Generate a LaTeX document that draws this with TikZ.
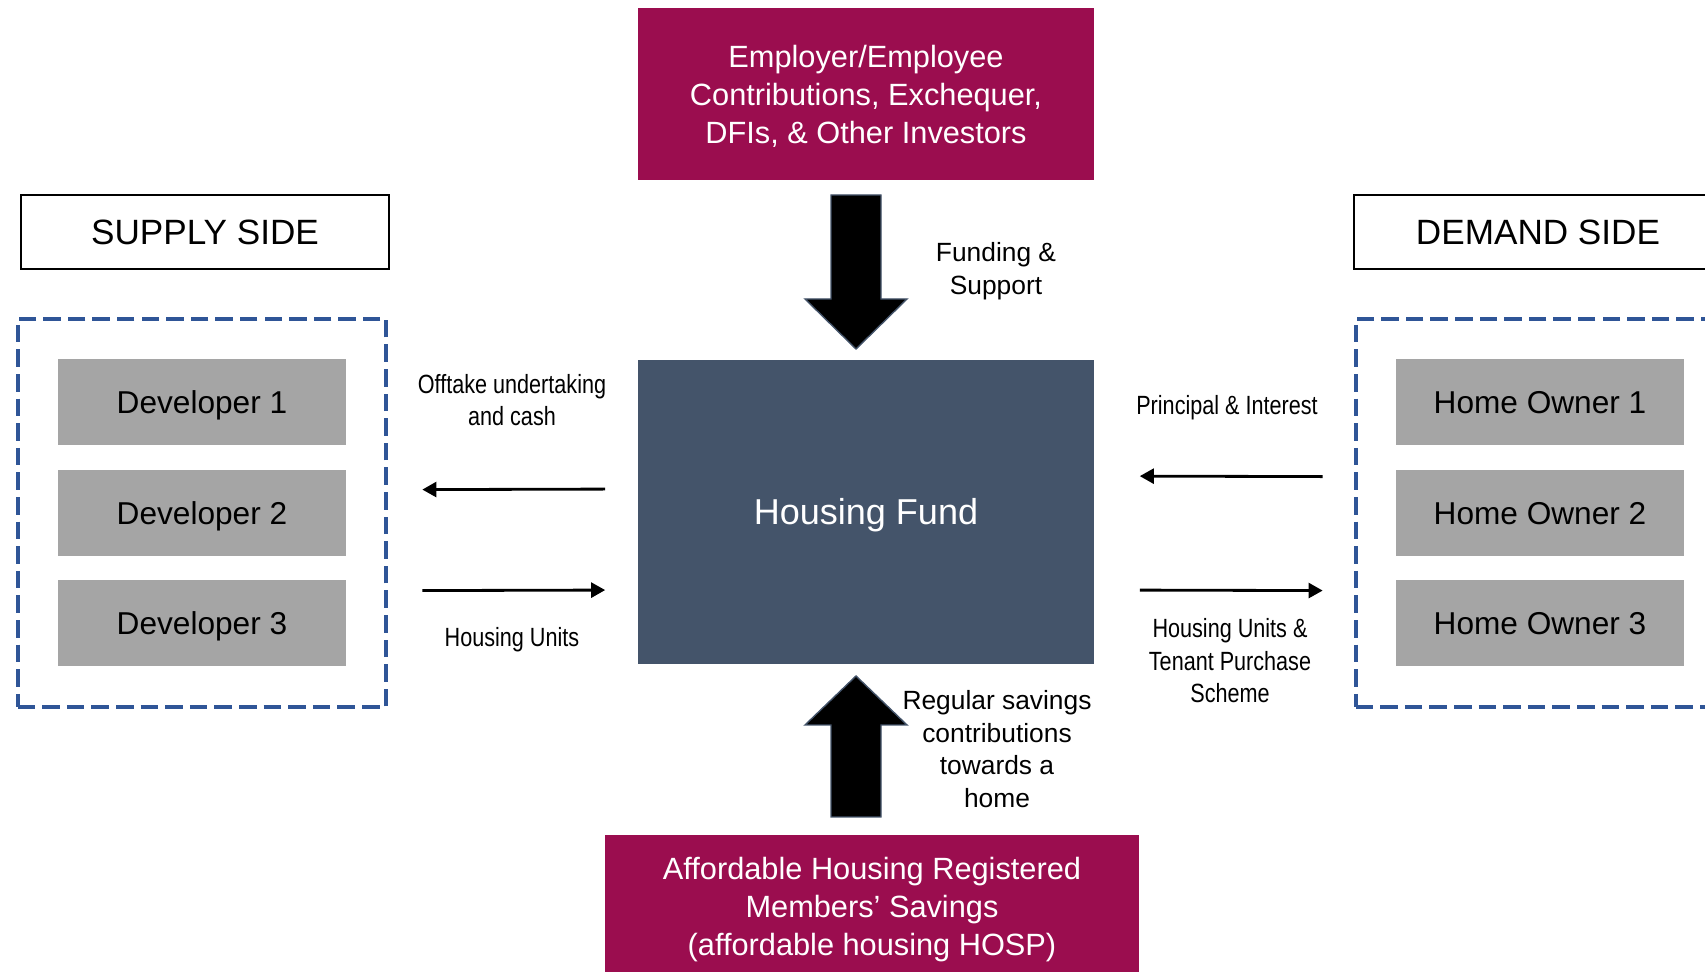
\documentclass[tikz,border=0pt]{standalone}
\usepackage{fontspec}
\setmainfont{Liberation Sans}
\newfontfamily\narrowfont[FakeStretch=0.82]{Liberation Sans}
\usetikzlibrary{fit,positioning,arrows.meta}
\definecolor{fundmagenta}{HTML}{9B0D4F}
\definecolor{fundslate}{HTML}{44546A}
\definecolor{devgray}{HTML}{A5A5A5}
\definecolor{sideblue}{HTML}{2F5597}
\tikzset{
    node distance=0.48cm, % gap between the stacked grey boxes
    source/.style={fill=fundmagenta, text=white, align=center, text depth=0pt, font=\fontsize{17.5}{21.6}\selectfont},
    member/.style={fill=devgray, minimum width=5.76cm, minimum height=1.72cm, text height=12.9pt, text depth=0pt, font=\fontsize{18}{21}\selectfont},
    sidelabel/.style={draw, line width=1.2pt, minimum width=7.36cm, minimum height=1.48cm, font=\fontsize{20}{24}\selectfont},
    sidebox/.style={draw=sideblue, line width=2.3pt, dash pattern=on 10pt off 4pt, inner sep=0.8cm},
    flow/.style={-{Triangle[length=8pt,width=8.5pt]}, line width=1.6pt},
    blockarrow/.style={fill=black, draw=fundslate, line width=0.8pt},
    note/.style={align=center, font=\fontsize{15}{18.5}\selectfont},
    narrownote/.style={align=center, font=\narrowfont\fontsize{15}{18.5}\selectfont},
}
\begin{document}
\begin{tikzpicture}[x=0.02cm, y=-0.02cm]
  \useasboundingbox (0,0) rectangle (1705,972);

  % money coming in, above and below the fund
  \node[source, minimum width=9.14cm, minimum height=3.46cm] (src) at (866,94)
      {Employer/Employee\\Contributions, Exchequer,\\DFIs, \& Other Investors};
  \node[fill=fundslate, text=white, minimum width=9.14cm, minimum height=6.1cm,
      text height=14.7pt, text depth=0pt,
      font=\fontsize{20.5}{24}\selectfont] (fund) at (866,512) {Housing Fund};
  \node[source, minimum width=10.7cm, minimum height=2.84cm] (hosp) at (872,906)
      {Affordable Housing Registered\\Members’ Savings\\(affordable housing HOSP)};

  % supply side
  \node[member] (dev1) at (202,402) {Developer 1};
  \node[member, below=of dev1] (dev2) {Developer 2};
  \node[member, below=of dev2] (dev3) {Developer 3};
  \node[sidebox, fit=(dev1)(dev3)] (supply) {};
  \node[sidelabel] (supplylabel) at (205,232) {SUPPLY SIDE};

  % demand side
  \node[member] (own1) at (1540,402) {Home Owner 1};
  \node[member, below=of own1] (own2) {Home Owner 2};
  \node[member, below=of own2] (own3) {Home Owner 3};
  \node[sidebox, fit=(own1)(own3)] (demand) {};
  \node[sidelabel] (demandlabel) at (1538,232) {DEMAND SIDE};

  % block arrows
  \draw[blockarrow] (831,195) -- (881,195) -- (881,299) -- (907,299) -- (856,349)
      -- (805,299) -- (831,299) -- cycle;
  \draw[blockarrow] (831,817) -- (881,817) -- (881,725) -- (907,725) -- (856,676)
      -- (805,725) -- (831,725) -- cycle;

  % flows between the fund and the two sides
  \draw[flow, shorten <=0.64cm, shorten >=0.68cm] ([yshift=4.6mm]fund.west) -- ([yshift=4.6mm]supply.east);
  \draw[flow, shorten <=0.68cm, shorten >=0.64cm] ([yshift=-15.6mm]supply.east) -- ([yshift=-15.6mm]fund.west);
  \draw[flow, shorten <=0.62cm, shorten >=0.9cm] ([yshift=7.2mm]demand.west) -- ([yshift=7.2mm]fund.east);
  \draw[flow, shorten <=0.9cm, shorten >=0.62cm] ([yshift=-15.6mm]fund.east) -- ([yshift=-15.6mm]demand.west);

  % labels
  \node[narrownote] (offtake) at (512,400) {Offtake undertaking\\and cash};
  \node[narrownote] (unitsin) at (512,640) {Housing Units};
  \node[narrownote] (repay) at (1227,408) {Principal \& Interest};
  \node[narrownote] (unitsout) at (1230,661) {Housing Units \&\\Tenant Purchase\\Scheme};
  \node[note] (funding) at (996,271) {Funding \&\\Support};
  \node[note] (savings) at (997,749) {Regular savings\\contributions\\towards a\\home};
\end{tikzpicture}
\end{document}
